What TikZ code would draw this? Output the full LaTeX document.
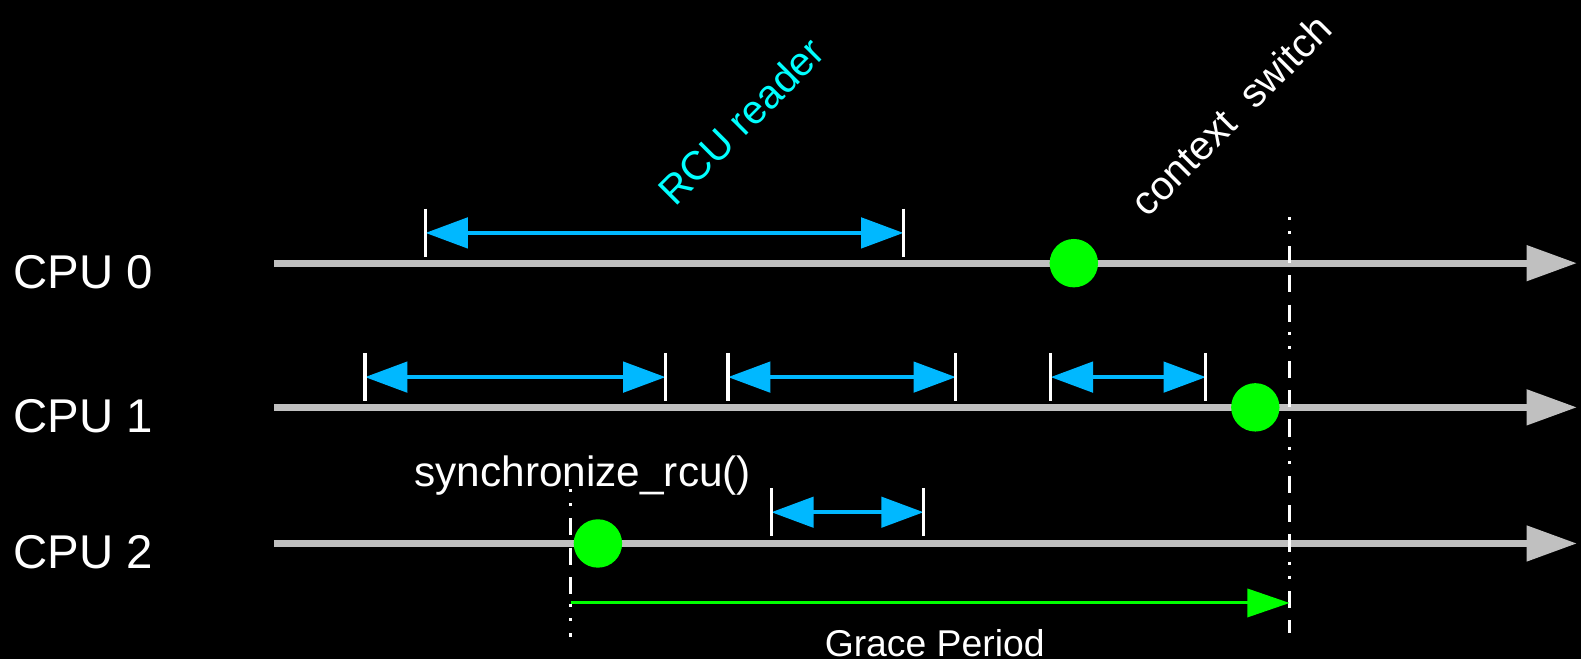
\documentclass[tikz,border=0pt]{standalone}
\usepackage{fontspec}
\setmainfont{Liberation Sans}
\usetikzlibrary{calc,arrows.meta}
\definecolor{rail}{HTML}{C0C0C0}
\definecolor{readerblue}{HTML}{00B8FF}
\definecolor{qsgreen}{HTML}{00FF00}
\definecolor{rcucyan}{HTML}{00FFFF}

\begin{document}
\begin{tikzpicture}[x=1pt,y=-1pt,
  timeline/.style={rail,line width=7pt,-{Triangle[length=50pt,width=34pt]}},
  reader/.style={readerblue,line width=4pt,{Triangle[length=42pt,width=30pt]}-{Triangle[length=42pt,width=30pt]}},
  tick/.style={white,line width=3pt},
  qsdot/.style={circle,fill=qsgreen,minimum size=48pt,inner sep=0pt},
  marker/.style={white,line width=3pt,dash pattern=on 3pt off 11pt on 3pt off 12pt on 17pt off 12pt on 17pt off 12pt on 17pt off 10pt},
  grace/.style={qsgreen,line width=3pt,-{Triangle[length=42pt,width=28pt]}},
  cpu/.style={anchor=west,text=white,font=\fontsize{47}{50}\selectfont}]
\path[fill=black,use as bounding box] (0,0) rectangle (1568,654);

\foreach \y [count=\i from 0] in {261,404,539}{
  \coordinate (t\i s) at (272,\y);
  \coordinate (t\i e) at (1564,\y);
  \draw[timeline] (t\i s) -- (t\i e);
  \node[cpu] (cpu\i) at (10,\y+9) {CPU \i};
}

\coordinate (cs top) at (1279,215);
\coordinate (cs bot) at (1279,628);
\coordinate (sy top) at (566,485);
\coordinate (sy bot) at (566,632);
\draw[marker] (cs top) -- (cs bot);
\draw[marker] (sy top) -- (sy bot);

\foreach \a/\b/\y [count=\i] in {422/896/231,362/660/374,722/948/374,1042/1196/374,765/916/508}{
  \coordinate (ra\i) at (\a,\y);
  \coordinate (rb\i) at (\b,\y);
  \draw[reader] (ra\i) -- (rb\i);
  \draw[tick] ($(ra\i)+(0,-24)$) -- ($(ra\i)+(0,24)$);
  \draw[tick] ($(rb\i)+(0,-24)$) -- ($(rb\i)+(0,24)$);
}

\node[qsdot] (qs0) at (1065,261) {};
\node[qsdot] (qs1) at (1245,404) {};
\node[qsdot] (qs2) at (593,539) {};

\coordinate (gp start) at (566,598);
\coordinate (gp end) at (1279,598);
\draw[grace] (gp start) -- (gp end);

\node[anchor=base,text=white,font=\fontsize{42}{46}\selectfont] (sync) at (578,482) {synchronize\_rcu()};
\node[anchor=base,text=white,font=\fontsize{37}{40}\selectfont] (gp) at (927,651) {Grace Period};
\node[rotate=45,text=rcucyan,font=\fontsize{40}{44}\selectfont] (rcu) at (735,120) {RCU reader};
\node[rotate=45,text=white,font=\fontsize{40}{44}\selectfont] (ctx) at (1221,114) {context\ \ switch};
\end{tikzpicture}
\end{document}
